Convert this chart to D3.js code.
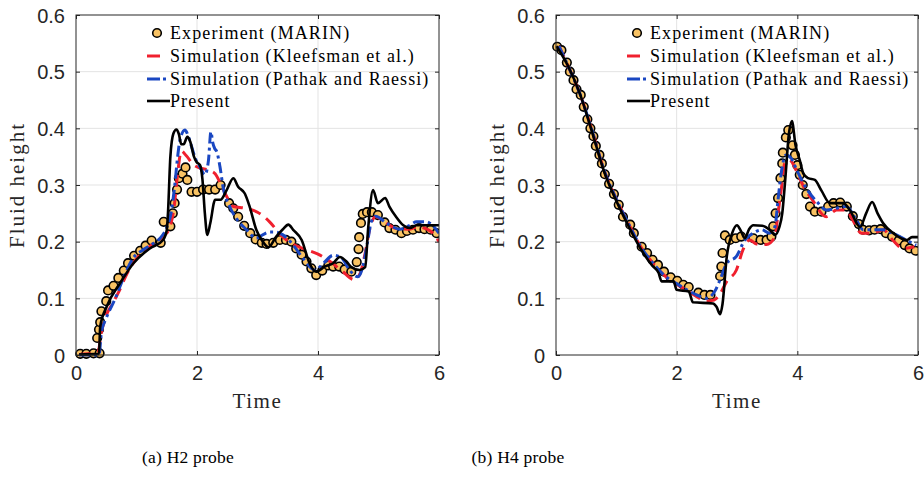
<!DOCTYPE html>
<html>
<head>
<meta charset="utf-8">
<script src="https://cdn.jsdelivr.net/npm/d3@7"></script>
<style>
  html, body { margin: 0; padding: 0; background: #fff; }
  svg { display: block; }
</style>
</head>
<body>
<svg id="chart" width="924" height="480"></svg>
<script>
// ---- Data: fluid height at the H2 and H4 probes, [time, height] ----
const h2Experiment = [
  [0.07,0.002],[0.17,0.002],[0.29,0.003],[0.39,0.003],[0.35,0.03],[0.38,0.045],[0.40,0.058],
  [0.42,0.077],[0.50,0.095],[0.53,0.114],[0.62,0.122],[0.70,0.136],[0.79,0.149],[0.86,0.162],
  [0.96,0.175],[1.06,0.184],[1.15,0.193],[1.25,0.202],[1.40,0.198],[1.45,0.235],[1.56,0.227],
  [1.60,0.25],[1.63,0.268],[1.67,0.292],[1.70,0.312],[1.76,0.32],[1.81,0.331],[1.84,0.309],
  [1.91,0.288],[2.00,0.288],[2.10,0.292],[2.20,0.292],[2.30,0.292],[2.39,0.30],[2.53,0.268],
  [2.60,0.259],[2.68,0.244],[2.78,0.228],[2.88,0.215],[2.97,0.204],[3.07,0.198],[3.15,0.196],
  [3.26,0.198],[3.37,0.203],[3.47,0.203],[3.56,0.200],[3.64,0.188],[3.73,0.177],[3.81,0.165],
  [3.89,0.153],[3.97,0.141],[4.07,0.149],[4.17,0.158],[4.25,0.156],[4.35,0.156],[4.44,0.151],
  [4.55,0.147],[4.64,0.164],[4.67,0.187],[4.68,0.208],[4.71,0.233],[4.74,0.249],[4.81,0.252],
  [4.89,0.252],[4.99,0.247],[5.10,0.234],[5.18,0.224],[5.28,0.221],[5.38,0.215],[5.47,0.219],
  [5.57,0.221],[5.67,0.224],[5.76,0.222],[5.86,0.221],[5.96,0.215]
];
const h2Kleefsman = [
  [0.05,0.001],[0.2,0.002],[0.36,0.004],[0.42,0.04],[0.5,0.07],[0.6,0.09],[0.7,0.11],[0.85,0.145],
  [1.0,0.17],[1.15,0.185],[1.3,0.198],[1.45,0.21],[1.55,0.225],[1.62,0.26],[1.68,0.32],[1.74,0.36],
  [1.82,0.352],[1.95,0.335],[2.05,0.33],[2.2,0.326],[2.3,0.32],[2.4,0.3],[2.5,0.278],[2.6,0.262],
  [2.8,0.259],[3.0,0.252],[3.2,0.235],[3.4,0.21],[3.6,0.195],[3.8,0.186],[4.0,0.178],[4.2,0.165],
  [4.4,0.148],[4.6,0.133],[4.7,0.145],[4.78,0.18],[4.85,0.22],[4.95,0.244],[5.1,0.235],[5.3,0.223],
  [5.5,0.222],[5.65,0.226],[5.8,0.222],[5.9,0.215],[6.0,0.2]
];
const h2Pathak = [
  [0.05,0.0],[0.38,0.0],[0.42,0.04],[0.5,0.065],[0.65,0.1],[0.8,0.14],[0.95,0.172],[1.1,0.185],
  [1.25,0.195],[1.39,0.206],[1.5,0.225],[1.57,0.25],[1.63,0.297],[1.68,0.35],[1.72,0.38],[1.8,0.397],
  [1.86,0.385],[1.91,0.368],[1.98,0.345],[2.05,0.332],[2.13,0.318],[2.19,0.344],[2.23,0.394],
  [2.26,0.375],[2.29,0.365],[2.33,0.358],[2.38,0.332],[2.43,0.297],[2.54,0.262],[2.65,0.241],
  [2.82,0.221],[2.98,0.206],[3.1,0.213],[3.2,0.217],[3.3,0.217],[3.42,0.212],[3.59,0.194],
  [3.75,0.171],[3.95,0.15],[4.1,0.163],[4.25,0.176],[4.39,0.171],[4.52,0.15],[4.66,0.138],
  [4.75,0.16],[4.82,0.2],[4.88,0.235],[4.95,0.245],[5.13,0.233],[5.35,0.222],[5.5,0.228],
  [5.63,0.235],[5.79,0.235],[5.9,0.228],[6.0,0.215]
];
const h2Present = [
  [0.05,0.001],[0.38,0.002],[0.40,0.05],[0.51,0.086],[0.73,0.127],[0.95,0.162],[1.22,0.188],
  [1.44,0.203],[1.5,0.22],[1.52,0.25],[1.56,0.35],[1.61,0.391],[1.66,0.398],[1.70,0.39],[1.74,0.372],
  [1.78,0.372],[1.84,0.385],[1.89,0.376],[1.95,0.35],[1.99,0.341],[2.05,0.335],[2.09,0.31],
  [2.13,0.25],[2.17,0.212],[2.22,0.233],[2.30,0.274],[2.39,0.274],[2.49,0.291],[2.60,0.312],
  [2.68,0.297],[2.79,0.285],[2.87,0.262],[2.98,0.221],[3.07,0.203],[3.18,0.19],[3.31,0.209],
  [3.42,0.222],[3.51,0.230],[3.59,0.221],[3.73,0.203],[3.86,0.162],[3.97,0.147],[4.11,0.156],
  [4.25,0.162],[4.36,0.173],[4.47,0.165],[4.55,0.155],[4.69,0.15],[4.78,0.155],[4.83,0.225],
  [4.91,0.291],[4.99,0.268],[5.11,0.277],[5.18,0.262],[5.29,0.244],[5.41,0.229],[5.52,0.224],
  [5.63,0.229],[5.8,0.229],[6.0,0.229]
];

const h4Experiment = [
  [0.02,0.544],[0.09,0.538],[0.18,0.516],[0.23,0.50],[0.29,0.485],[0.34,0.469],[0.41,0.459],
  [0.46,0.438],[0.52,0.416],[0.57,0.40],[0.62,0.386],[0.66,0.369],[0.72,0.353],[0.76,0.338],
  [0.81,0.319],[0.88,0.302],[0.96,0.284],[1.04,0.265],[1.11,0.244],[1.23,0.23],[1.29,0.215],
  [1.42,0.191],[1.51,0.180],[1.60,0.168],[1.69,0.159],[1.79,0.147],[1.90,0.137],[2.01,0.131],
  [2.11,0.124],[2.20,0.12],[2.36,0.110],[2.46,0.106],[2.56,0.106],[2.72,0.139],[2.74,0.156],
  [2.76,0.18],[2.80,0.211],[2.88,0.203],[2.98,0.206],[3.07,0.209],[3.27,0.206],[3.39,0.203],
  [3.49,0.203],[3.57,0.209],[3.60,0.227],[3.64,0.25],[3.68,0.277],[3.72,0.312],[3.75,0.338],
  [3.76,0.357],[3.81,0.384],[3.85,0.397],[3.92,0.37],[3.96,0.353],[4.00,0.335],[4.04,0.318],
  [4.09,0.30],[4.15,0.284],[4.21,0.262],[4.29,0.253],[4.40,0.253],[4.51,0.262],[4.60,0.268],
  [4.71,0.269],[4.82,0.262],[4.92,0.245],[5.02,0.231],[5.09,0.221],[5.19,0.22],[5.28,0.221],
  [5.38,0.222],[5.47,0.215],[5.57,0.209],[5.68,0.202],[5.78,0.194],[5.86,0.188],[5.96,0.184]
];
const h4Kleefsman = [
  [0.05,0.545],[0.2,0.51],[0.4,0.46],[0.6,0.395],[0.8,0.325],[1.0,0.275],[1.2,0.232],[1.4,0.192],
  [1.6,0.163],[1.8,0.14],[2.0,0.125],[2.2,0.112],[2.38,0.1],[2.49,0.095],[2.62,0.097],[2.72,0.108],
  [2.83,0.13],[2.99,0.15],[3.1,0.186],[3.21,0.203],[3.32,0.196],[3.49,0.195],[3.63,0.209],
  [3.68,0.25],[3.74,0.297],[3.79,0.338],[3.87,0.344],[3.98,0.326],[4.09,0.3],[4.26,0.272],
  [4.48,0.244],[4.65,0.256],[4.81,0.256],[4.92,0.238],[5.06,0.215],[5.25,0.215],[5.42,0.221],
  [5.58,0.203],[5.75,0.188],[5.94,0.191]
];
const h4Pathak = [
  [0.05,0.545],[0.2,0.51],[0.4,0.46],[0.6,0.395],[0.8,0.325],[1.0,0.275],[1.2,0.232],[1.4,0.192],
  [1.6,0.163],[1.8,0.14],[2.0,0.126],[2.2,0.113],[2.35,0.105],[2.49,0.1],[2.63,0.112],[2.72,0.133],
  [2.83,0.162],[2.99,0.174],[3.13,0.203],[3.27,0.215],[3.41,0.221],[3.54,0.215],[3.63,0.227],
  [3.68,0.274],[3.74,0.326],[3.81,0.353],[3.9,0.347],[3.98,0.329],[4.15,0.294],[4.32,0.271],
  [4.48,0.256],[4.65,0.259],[4.81,0.262],[4.98,0.238],[5.09,0.221],[5.25,0.221],[5.42,0.221],
  [5.58,0.215],[5.8,0.203],[5.97,0.194]
];
const h4Present = [
  [0.01,0.545],[0.2,0.51],[0.4,0.46],[0.6,0.393],[0.8,0.323],[1.0,0.272],[1.2,0.228],[1.4,0.188],
  [1.6,0.157],[1.7,0.145],[1.75,0.13],[1.95,0.13],[2.0,0.115],[2.2,0.112],[2.27,0.093],[2.6,0.091],
  [2.66,0.085],[2.72,0.072],[2.76,0.09],[2.83,0.173],[2.92,0.215],[3.0,0.229],[3.06,0.22],
  [3.13,0.206],[3.2,0.222],[3.27,0.229],[3.42,0.228],[3.55,0.22],[3.63,0.212],[3.7,0.225],
  [3.75,0.25],[3.8,0.31],[3.86,0.39],[3.91,0.413],[3.97,0.37],[4.04,0.344],[4.1,0.32],[4.18,0.312],
  [4.29,0.309],[4.4,0.29],[4.54,0.268],[4.76,0.268],[4.87,0.256],[5.04,0.226],[5.14,0.25],
  [5.24,0.27],[5.33,0.25],[5.42,0.233],[5.59,0.215],[5.82,0.203],[5.9,0.208],[6.0,0.208]
];

// ---- Axis ticks and labels ----
const timeTicks = [0, 2, 4, 6];
const heightTicks = [0, 0.1, 0.2, 0.3, 0.4, 0.5, 0.6];
const legendLabels = [
  "Experiment (MARIN)",
  "Simulation (Kleefsman et al.)",
  "Simulation (Pathak and Raessi)",
  "Present"
];
const panelCaptions = ["(a) H2 probe", "(b) H4 probe"];

// ---- Drawing ----
const svg = d3.select("#chart");
const sansFont = "'Liberation Sans', Arial, Helvetica, sans-serif";
const serifFont = "'Liberation Serif', 'Times New Roman', serif";

const colors = {
  marker: "#f8c263",
  red: "#f0202e",
  blue: "#1a47c2",
  black: "#000000",
  frame: "#262626",
  grid: "#e3e3e3"
};

const panels = [
  { left: 76, right: 439, caption: panelCaptions[0], captionX: 188,
    exp: h2Experiment, kl: h2Kleefsman, pr: h2Pathak, pres: h2Present },
  { left: 556, right: 918, caption: panelCaptions[1], captionX: 518,
    exp: h4Experiment, kl: h4Kleefsman, pr: h4Pathak, pres: h4Present }
];
const plotTop = 15, plotBottom = 355;

panels.forEach((p, i) => {
  const x = d3.scaleLinear().domain([0, 6]).range([p.left, p.right]);
  const y = d3.scaleLinear().domain([0, 0.6]).range([plotBottom, plotTop]);
  const g = svg.append("g");

  // grid
  g.append("g").selectAll("line").data(timeTicks.slice(1, -1)).join("line")
    .attr("x1", d => x(d)).attr("x2", d => x(d)).attr("y1", plotTop).attr("y2", plotBottom)
    .attr("stroke", colors.grid).attr("stroke-width", 1);
  g.append("g").selectAll("line").data(heightTicks.slice(1, -1)).join("line")
    .attr("x1", p.left).attr("x2", p.right).attr("y1", d => y(d)).attr("y2", d => y(d))
    .attr("stroke", colors.grid).attr("stroke-width", 1);

  const clipId = "clip" + i;
  svg.append("clipPath").attr("id", clipId).append("rect")
    .attr("x", p.left - 8).attr("y", plotTop).attr("width", p.right - p.left + 8)
    .attr("height", plotBottom - plotTop + 8);

  const plot = g.append("g").attr("clip-path", `url(#${clipId})`);
  const line = d3.line().x(d => x(d[0])).y(d => y(d[1])).curve(d3.curveMonotoneX);

  // experiment markers
  plot.append("g").selectAll("circle").data(p.exp).join("circle")
    .attr("cx", d => x(d[0])).attr("cy", d => y(d[1])).attr("r", 4.3)
    .attr("fill", colors.marker).attr("stroke", "#000").attr("stroke-width", 1.6);

  plot.append("path").datum(p.kl).attr("d", line).attr("fill", "none")
    .attr("stroke", colors.red).attr("stroke-width", 3).attr("stroke-dasharray", "12,7");
  plot.append("path").datum(p.pr).attr("d", line).attr("fill", "none")
    .attr("stroke", colors.blue).attr("stroke-width", 3).attr("stroke-dasharray", "11,4,3,4");
  plot.append("path").datum(p.pres).attr("d", line).attr("fill", "none")
    .attr("stroke", colors.black).attr("stroke-width", 2.6).attr("stroke-linejoin", "round");

  // frame with inward ticks on all sides
  g.append("rect").attr("x", p.left).attr("y", plotTop).attr("width", p.right - p.left)
    .attr("height", plotBottom - plotTop).attr("fill", "none")
    .attr("stroke", colors.frame).attr("stroke-width", 1);

  const xAxisB = d3.axisBottom(x).tickValues(timeTicks).tickSizeInner(-4).tickSizeOuter(0)
    .tickFormat(d3.format("d"));
  const xAxisT = d3.axisTop(x).tickValues(timeTicks).tickSizeInner(-4).tickSizeOuter(0).tickFormat("");
  const yAxisL = d3.axisLeft(y).tickValues(heightTicks).tickSizeInner(-4).tickSizeOuter(0)
    .tickFormat(d => d === 0 ? "0" : d3.format(".1f")(d));
  const yAxisR = d3.axisRight(y).tickValues(heightTicks).tickSizeInner(-4).tickSizeOuter(0).tickFormat("");

  const styleAxis = a => {
    a.select(".domain").remove();
    a.selectAll(".tick line").attr("stroke", colors.frame);
    a.selectAll(".tick text").attr("fill", "#262626")
      .style("font-family", sansFont).style("font-size", "20px");
  };
  g.append("g").attr("transform", `translate(0,${plotBottom})`).call(xAxisB).call(styleAxis)
    .selectAll(".tick text").attr("y", 11).attr("dy", "0.71em");
  g.append("g").attr("transform", `translate(0,${plotTop})`).call(xAxisT).call(styleAxis);
  g.append("g").attr("transform", `translate(${p.left},0)`).call(yAxisL).call(styleAxis)
    .selectAll(".tick text").attr("x", -11).attr("dy", "0.35em");
  g.append("g").attr("transform", `translate(${p.right},0)`).call(yAxisR).call(styleAxis);

  // axis titles
  g.append("text").attr("x", (p.left + p.right) / 2).attr("y", 408)
    .attr("text-anchor", "middle").style("font-family", serifFont).style("font-size", "21px")
    .style("letter-spacing", "1.6px").attr("fill", "#262626").text("Time");
  g.append("text")
    .attr("transform", `translate(${p.left - 52},${(plotTop + plotBottom) / 2}) rotate(-90)`)
    .attr("text-anchor", "middle").style("font-family", serifFont).style("font-size", "21px")
    .style("letter-spacing", "2px").attr("fill", "#262626").text("Fluid height");

  // legend
  const lx = p.left + 71, rows = [33, 56, 79, 101];
  const leg = g.append("g");
  leg.append("circle").attr("cx", lx + 10).attr("cy", rows[0]).attr("r", 4.3)
    .attr("fill", colors.marker).attr("stroke", "#000").attr("stroke-width", 1.6);
  leg.append("line").attr("x1", lx).attr("x2", lx + 13).attr("y1", rows[1]).attr("y2", rows[1])
    .attr("stroke", colors.red).attr("stroke-width", 3);
  leg.append("line").attr("x1", lx).attr("x2", lx + 23).attr("y1", rows[2]).attr("y2", rows[2])
    .attr("stroke", colors.blue).attr("stroke-width", 3).attr("stroke-dasharray", "13,3,3,10");
  leg.append("line").attr("x1", lx).attr("x2", lx + 23).attr("y1", rows[3]).attr("y2", rows[3])
    .attr("stroke", colors.black).attr("stroke-width", 2.6);
  leg.selectAll("text").data(legendLabels).join("text")
    .attr("x", lx + 23).attr("y", (d, k) => rows[k] + 6)
    .style("font-family", serifFont).style("font-size", "18px").style("letter-spacing", "1.1px")
    .attr("fill", "#000").text(d => d);

  // caption
  svg.append("text").attr("x", p.captionX).attr("y", 463).attr("text-anchor", "middle")
    .style("font-family", serifFont).style("font-size", "17.5px").style("letter-spacing", "0.2px")
    .attr("fill", "#000").text(p.caption);
});
</script>
</body>
</html>
